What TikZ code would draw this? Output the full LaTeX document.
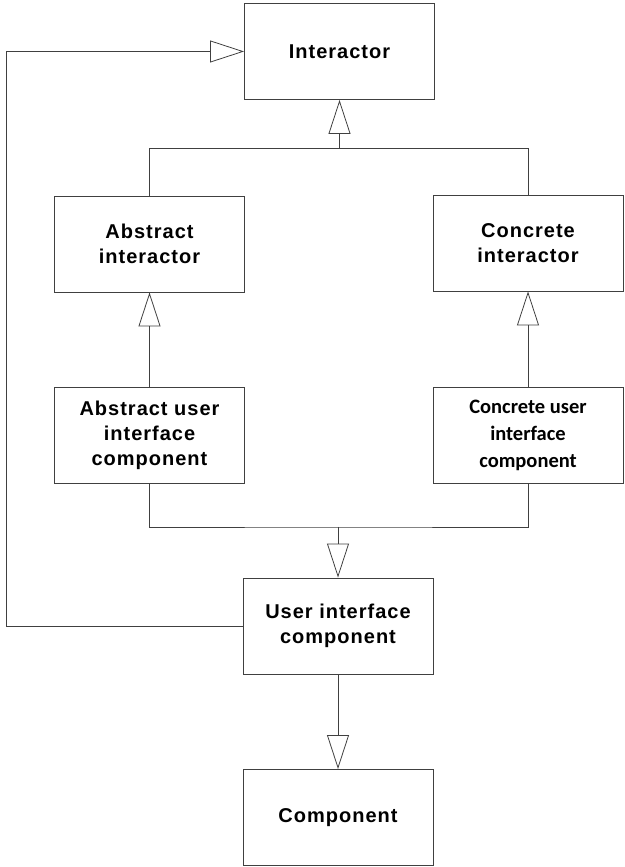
\documentclass[tikz,border=0pt]{standalone}
\usepackage{fontspec}
\setmainfont{Liberation Sans}
\newfontfamily\arialbold[LetterSpace=5]{Liberation Sans Bold}
\newfontfamily\calibold{Carlito Bold}
\usetikzlibrary{arrows.meta}
\begin{document}
\begin{tikzpicture}[x=1pt,y=1pt,
  box/.style={draw=black!75,line width=0.9pt,minimum width=190pt,minimum height=96pt,
    align=center,inner sep=0pt,font=\fontsize{20}{25}\arialbold},
  inherit/.style={draw=black!75,line width=0.8pt,-{Triangle[open,length=34pt,width=22pt]}},
  wire/.style={draw=black!75,line width=0.8pt}]
\useasboundingbox (0,0) rectangle (624,867);
\node [box] (inter) at (339.5,815.5) {Interactor};
\node [box] (absint) at (149.5,623) {Abstract\\interactor};
\node [box] (conint) at (528,624) {Concrete\\interactor};
\node [box] (absuic) at (149.5,432) {Abstract user\\interface\\component};
\node [box,font=\fontsize{20.5}{27}\calibold] (conuic) at (528,432) {Concrete user\\interface\\component};
\node [box] (uic) at (338,241) {User interface\\component};
\node [box] (comp) at (338,49.5) {Component};
\coordinate (top) at (339.5,719);
\coordinate (bot) at (338,340);
\coordinate (back) at (6.5,241);
% upper tree
\draw [style=wire] (absint.north) |- (top) -| (conint.north);
\draw [style=inherit] (top) -- (inter.south);
\draw [style=inherit] (absuic.north) -- (absint.south);
\draw [style=inherit] (conuic.north) -- (conint.south);
% lower tree
\draw [style=wire] (absuic.south) |- (bot) -| (conuic.south);
\draw [style=inherit] (bot) -- (uic.north);
\draw [style=inherit] (uic.south) -- (comp.north);
% loop back to the top
\draw [style=inherit] (uic.west) -- (back) |- (inter.west);
\end{tikzpicture}
\end{document}
